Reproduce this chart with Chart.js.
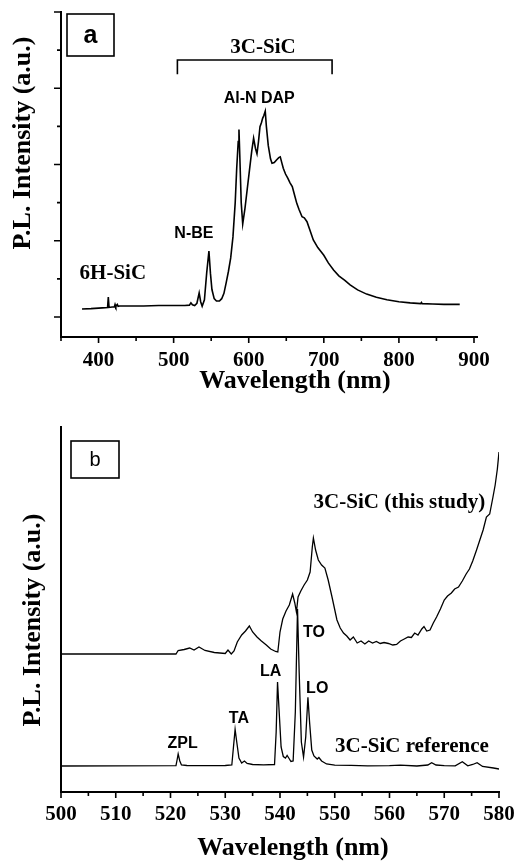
<!DOCTYPE html>
<html>
<head>
<meta charset="utf-8">
<script src="https://cdn.jsdelivr.net/npm/chart.js@4"></script>
<style>
  html, body { margin: 0; padding: 0; background: #fff; }
  canvas { display: block; }
</style>
</head>
<body>
<canvas id="chartA" width="527" height="420"></canvas>
<canvas id="chartB" width="527" height="443"></canvas>
<script>
// ---- panel a : wide PL spectrum ----
const waveA = [378, 390, 405, 412, 413, 414, 418, 421, 422, 423, 424, 425, 426, 428, 440, 460, 480, 500, 515,
  521, 523, 525, 528, 531, 534, 536, 538, 541, 544, 547, 549, 551, 554, 557, 561, 564, 567, 570, 573, 576, 579,
  582, 584, 586, 587, 588, 590, 592, 595, 598, 601, 604, 606.5, 609, 611, 613, 615, 617, 618.5, 620, 622, 623.5,
  626, 629, 631, 634, 637, 640, 642, 644, 646, 649, 652, 655, 658, 661, 664, 667, 671, 674, 677.6, 682, 686, 692,
  700, 706, 713, 720, 728, 735, 745, 757, 770, 784, 800, 815, 829, 830, 831, 845, 860, 881];
const intA = [0.21, 0.22, 0.24, 0.25, 0.52, 0.25, 0.26, 0.26, 0.33, 0.27, 0.31, 0.33, 0.28, 0.29, 0.29, 0.29, 0.30, 0.30, 0.30,
  0.31, 0.37, 0.32, 0.30, 0.36, 0.63, 0.40, 0.28, 0.45, 1.15, 1.73, 1.15, 0.72, 0.48, 0.42, 0.42, 0.48, 0.62, 0.9, 1.2, 1.55, 2.1,
  3.0, 3.9, 4.6, 4.92, 4.3, 3.0, 2.44, 2.85, 3.35, 3.85, 4.35, 4.69, 4.42, 4.28, 4.6, 4.99, 5.1, 5.21, 5.28, 5.40, 5.0,
  4.5, 4.15, 4.03, 4.05, 4.12, 4.18, 4.2, 4.05, 3.9, 3.75, 3.64, 3.52, 3.42, 3.2, 2.98, 2.82, 2.63, 2.6, 2.5, 2.25, 2.02, 1.82,
  1.62, 1.42, 1.23, 1.08, 0.96, 0.84, 0.71, 0.60, 0.52, 0.45, 0.40, 0.37, 0.35, 0.38, 0.35, 0.34, 0.33, 0.33];
const xTicksA = [350, 400, 450, 500, 550, 600, 650, 700, 750, 800, 850, 900];
const yTicksA = [0, 1, 2, 3, 4, 5, 6, 7, 8];

// ---- panel b : near band-edge region ----
const waveStudy = [500, 521.0, 521.4, 522.5, 523.5, 524.3, 525.2, 526.3, 528, 530.0, 530.5, 531.1, 531.6, 532.2, 533.0,
  533.7, 534.4, 535.0, 535.8, 536.6, 537.5, 538.3, 539.2, 539.6, 540.0, 540.5, 541.1, 541.7, 542.3, 542.7, 543.0,
  543.3, 543.8, 544.4, 545.0, 545.5, 545.9, 546.1, 546.5, 547.0, 547.6, 548.2, 548.8, 549.5, 550.4, 551.0, 551.6,
  552.2, 552.8, 553.4, 554.1, 554.8, 555.5, 556.2, 556.9, 557.6, 558.3, 559.0, 559.8, 560.6, 561.3, 562.0, 562.7,
  563.4, 564.0, 564.6, 565.2, 565.9, 566.3, 566.8, 567.4, 568.0, 568.6, 569.3, 570.0, 570.6, 571.3, 571.9, 572.6,
  573.3, 574.0, 574.6, 575.2, 575.9, 576.5, 577.1, 577.7, 578.3, 578.9, 579.3, 579.7, 580];
const intStudy = [13.8, 13.8, 14.15, 14.25, 14.4, 14.2, 14.5, 14.15, 13.95, 13.85, 14.2, 13.8, 14.1, 15.0, 15.7,
  16.1, 16.6, 16.0, 15.5, 15.1, 14.7, 14.3, 14.05, 14.0, 16.0, 17.3, 18.1, 18.7, 19.8, 18.9, 18.0,
  19.5, 20.1, 20.7, 21.2, 22.0, 24.5, 25.4, 24.2, 23.2, 22.7, 22.4, 21.2, 19.5, 17.2, 16.4, 15.9,
  15.6, 15.2, 15.5, 14.9, 15.1, 14.8, 15.1, 14.9, 15.05, 14.85, 14.95, 14.85, 14.7, 14.75, 15.1, 15.3,
  15.5, 15.45, 15.9, 15.7, 16.3, 16.55, 16.1, 16.2, 16.9, 17.5, 18.3, 19.2, 19.6, 19.9, 20.3, 20.5,
  21.1, 21.8, 22.3, 23.1, 24.2, 25.2, 26.2, 27.5, 27.8, 29.5, 30.7, 32.3, 34.0];
const waveRef = [500, 510, 521.0, 521.2, 521.4, 521.7, 522.0, 523, 525, 530, 531.2, 531.5, 531.8, 532.1, 532.5, 533.0,
  533.5, 534.0, 535, 537, 539.0, 539.3, 539.55, 539.8, 540.2, 540.6, 541.0, 541.3, 541.6, 542.0, 542.4, 542.8,
  543.2, 543.5, 543.9, 544.3, 544.7, 545.1, 545.4, 545.8, 546.2, 546.8, 547.1, 547.6, 548.5, 550, 553, 556, 560,
  562, 565, 567, 567.7, 568.5, 570, 572, 573.3, 574.3, 575.2, 576.0, 577, 579, 580];
const intRef = [2.6, 2.62, 2.63, 3.2, 3.8, 3.1, 2.7, 2.65, 2.63, 2.65, 2.7, 4.5, 6.27, 5.0, 3.4, 2.9,
  3.1, 2.85, 2.75, 2.72, 2.75, 6.0, 11.0, 8.5, 4.5, 3.55, 3.4, 3.65, 3.4, 3.05, 3.1, 8.0,
  18.3, 12.0, 5.0, 3.5, 5.5, 9.47, 7.0, 4.2, 3.6, 3.3, 3.45, 3.1, 2.8, 2.68, 2.66, 2.62, 2.63,
  2.68, 2.6, 2.7, 2.93, 2.7, 2.63, 2.62, 3.03, 2.62, 2.75, 2.93, 2.55, 2.4, 2.3];
const xTicksB = [500, 505, 510, 515, 520, 525, 530, 535, 540, 545, 550, 555, 560, 565, 570, 575, 580];

const SERIF = '"Liberation Serif", "Times New Roman", serif';
const SANS = '"Liberation Sans", Arial, sans-serif';

function pts(xs, ys) {
  return xs.map((v, i) => ({ x: v, y: ys[i] }));
}

// draws tick marks, panel box, bracket, labels and axis titles
function decor(o) {
  return {
    id: 'decor',
    afterDraw(chart) {
      const { ctx, chartArea: ca, scales: { x, y } } = chart;
      ctx.save();
      ctx.strokeStyle = '#000';
      ctx.fillStyle = '#000';
      ctx.lineWidth = 1.6;
      ctx.beginPath();
      o.xTicks.forEach(v => {
        const px = x.getPixelForValue(v);
        const len = v % o.xMajor === 0 ? 6 : 4;
        ctx.moveTo(px, ca.bottom);
        ctx.lineTo(px, ca.bottom + len);
      });
      (o.yTicks || []).forEach(v => {
        const py = y.getPixelForValue(v);
        const len = v % 2 === 0 ? 7 : 4;
        ctx.moveTo(ca.left, py);
        ctx.lineTo(ca.left - len, py);
      });
      ctx.stroke();

      // panel letter box
      const b = o.box;
      ctx.strokeRect(ca.left + b.dx, ca.top + b.dy, b.w, b.h);
      ctx.font = b.font;
      ctx.textAlign = 'center';
      ctx.textBaseline = 'middle';
      ctx.fillText(b.text, ca.left + b.dx + b.w / 2, ca.top + b.dy + b.h / 2 + 1);

      if (o.bracket) {
        const k = o.bracket;
        const x1 = x.getPixelForValue(k.x1), x2 = x.getPixelForValue(k.x2);
        const yt = y.getPixelForValue(k.yTop), ye = y.getPixelForValue(k.yEnd);
        ctx.beginPath();
        ctx.moveTo(x1, ye); ctx.lineTo(x1, yt); ctx.lineTo(x2, yt); ctx.lineTo(x2, ye);
        ctx.stroke();
      }

      o.notes.forEach(n => {
        ctx.font = n.font;
        ctx.fillText(n.text, x.getPixelForValue(n.x), y.getPixelForValue(n.y));
      });

      // axis titles
      ctx.font = 'bold 26px ' + SERIF;
      ctx.fillText('Wavelength (nm)', o.xTitle[0], o.xTitle[1]);
      ctx.translate(o.yTitle[0], o.yTitle[1]);
      ctx.rotate(-Math.PI / 2);
      ctx.fillText('P.L. Intensity (a.u.)', 0, 0);
      ctx.restore();
    }
  };
}

function makeChart(id, datasets, xs, ys, pad, xHeight, plugin) {
  return new Chart(document.getElementById(id), {
    type: 'line',
    data: { datasets: datasets },
    options: {
      responsive: false,
      animation: false,
      layout: { padding: pad },
      plugins: { legend: { display: false }, tooltip: { enabled: false } },
      elements: { point: { radius: 0 }, line: { tension: 0 } },
      scales: {
        x: {
          type: 'linear',
          min: xs.min,
          max: xs.max,
          afterBuildTicks: s => { s.ticks = xs.ticks.map(v => ({ value: v })); },
          afterFit: s => { s.height = xHeight; },
          grid: { display: false, drawTicks: false },
          border: { display: true, color: '#000', width: 2 },
          ticks: {
            padding: xs.pad,
            color: '#000',
            maxRotation: 0,
            autoSkip: false,
            font: { family: SERIF, size: 21, weight: 'bold' },
            callback: v => (v % xs.major === 0 ? String(v) : '')
          }
        },
        y: {
          min: ys.min,
          max: ys.max,
          afterFit: s => { s.width = 61; },
          grid: { display: false, drawTicks: false },
          border: { display: true, color: '#000', width: 2 },
          ticks: { display: false }
        }
      }
    },
    plugins: [plugin]
  });
}

makeChart('chartA',
  [{ data: pts(waveA, intA), borderColor: '#000', borderWidth: 1.6, fill: false }],
  { min: 350, max: 904, ticks: xTicksA, major: 100, pad: 11 },
  { min: -0.525, max: 8 },
  { top: 12, right: 50, bottom: 0, left: 0 }, 83,
  decor({
    xTicks: xTicksA, xMajor: 100, yTicks: yTicksA,
    box: { dx: 6, dy: 2, w: 47, h: 42, text: 'a', font: 'bold 25px ' + SANS },
    bracket: { x1: 505, x2: 711, yTop: 6.74, yEnd: 6.37 },
    notes: [
      { text: '3C-SiC', x: 619, y: 7.06, font: 'bold 21px ' + SERIF },
      { text: 'Al-N DAP', x: 614, y: 5.72, font: 'bold 16px ' + SANS },
      { text: 'N-BE', x: 527, y: 2.2, font: 'bold 16px ' + SANS },
      { text: '6H-SiC', x: 419, y: 1.15, font: 'bold 21px ' + SERIF }
    ],
    xTitle: [295, 381],
    yTitle: [23, 143]
  }));

makeChart('chartB',
  [
    { data: pts(waveStudy, intStudy), borderColor: '#000', borderWidth: 1.3, fill: false },
    { data: pts(waveRef, intRef), borderColor: '#000', borderWidth: 1.3, fill: false }
  ],
  { min: 500, max: 580, ticks: xTicksB, major: 10, pad: 10 },
  { min: 0, max: 36.5 },
  { top: 7, right: 28, bottom: 0, left: 0 }, 71,
  decor({
    xTicks: xTicksB, xMajor: 10,
    box: { dx: 10, dy: 14, w: 48, h: 37, text: 'b', font: '20px ' + SANS },
    notes: [
      { text: '3C-SiC (this study)', x: 561.8, y: 28.9, font: 'bold 21px ' + SERIF },
      { text: '3C-SiC reference', x: 564.1, y: 4.5, font: 'bold 21px ' + SERIF },
      { text: 'TO', x: 546.2, y: 15.95, font: 'bold 16px ' + SANS },
      { text: 'LA', x: 538.3, y: 12.0, font: 'bold 16px ' + SANS },
      { text: 'LO', x: 546.8, y: 10.3, font: 'bold 16px ' + SANS },
      { text: 'TA', x: 532.5, y: 7.3, font: 'bold 16px ' + SANS },
      { text: 'ZPL', x: 522.2, y: 4.87, font: 'bold 16px ' + SANS }
    ],
    xTitle: [293, 428],
    yTitle: [33, 200]
  }));
</script>
</body>
</html>
